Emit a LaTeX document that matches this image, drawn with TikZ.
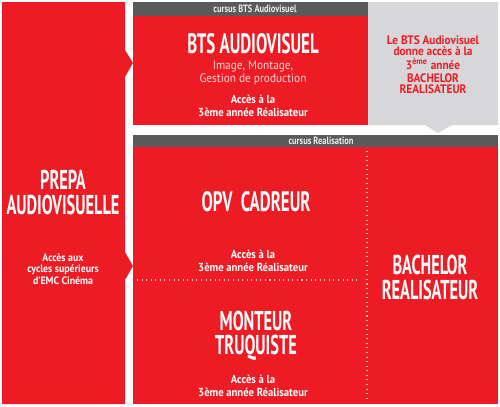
\documentclass[tikz,border=0pt]{standalone}
\usepackage{fontspec}
\setmainfont[FakeStretch=0.92]{PT Sans}
\newfontfamily\headfont[FakeStretch=0.6]{PT Sans}
\newfontfamily\tagfont[FakeStretch=0.8]{PT Sans}
\definecolor{emcred}{HTML}{ED1C24}
\definecolor{bargray}{HTML}{5A5A5A}
\definecolor{panelgray}{HTML}{D7D7D9}
\tikzset{
  bigtitle/.style={text=white,inner sep=0pt,font=\headfont\bfseries\fontsize{15.5}{15.5}\selectfont},
  subtext/.style={text=white!82!emcred,align=center,font=\fontsize{7}{7.4}\selectfont},
  accesstext/.style={text=white,align=center,font=\bfseries\fontsize{6.6}{7.4}\selectfont},
  bartext/.style={text=white!85!gray,font=\tagfont\bfseries\fontsize{6}{6}\selectfont},
  dotline/.style={white!70!emcred,dotted,line width=0.6pt}
}
\begin{document}
\begin{tikzpicture}[x=0.02cm,y=-0.02cm]
\useasboundingbox (0,0) rectangle (500,406);
% left column with the two arrows
\fill[emcred] (2,2) -- (125,2) -- (125,50) -- (133,63) -- (125,77) -- (125,252) -- (133,266) -- (125,280) -- (125,404) -- (2,404) -- cycle;
% BTS block
\fill[bargray] (133,2) rectangle (368,16);
\fill[emcred] (133,16) rectangle (368,125);
\fill[panelgray] (368,2) -- (498,2) -- (498,125) -- (452,125) -- (438,133) -- (425,125) -- (368,125) -- cycle;
% realisation block
\fill[bargray] (133,135) rectangle (498,147);
\fill[emcred] (133,147) rectangle (498,404);
\coordinate (vtop) at (367,151);
\coordinate (vbot) at (367,402);
\coordinate (hleft) at (137,280);
\coordinate (hright) at (360,280);
\draw[dotline] (vtop) -- (vbot);
\draw[dotline] (hleft) -- (hright);
% texts
\node[bartext] (btsbar) at (255,9) {cursus BTS Audiovisuel};
\node[bigtitle,font=\headfont\bfseries\fontsize{16}{16}\selectfont] (bts) at (253,44) {BTS AUDIOVISUEL};
\node[subtext] (btssub) at (253,73) {Image, Montage,\\Gestion de production};
\node[accesstext] (btsacc) at (253,106) {Accès à la\\3ème année Réalisateur};
\node[text=emcred,align=center,font=\bfseries\fontsize{7}{6.3}\selectfont] (btsnote) at (433,65)
  {Le BTS Audiovisuel\\donne accès à la\\3\textsuperscript{ème} année\\[1.2pt]BACHELOR\\REALISATEUR};
\node[bartext] (realbar) at (321,141) {cursus Realisation};
\node[bigtitle] (prepa) at (63,180) {PREPA};
\node[bigtitle] (audio) at (63,205) {AUDIOVISUELLE};
\node[accesstext,font=\bfseries\fontsize{6.1}{6.4}\selectfont] (prepaacc) at (63,269) {Accès aux\\cycles supérieurs\\d’EMC Cinéma};
\node[bigtitle,font=\headfont\bfseries\fontsize{16}{16}\selectfont] (opv) at (256,202) {OPV\ \ CADREUR};
\node[accesstext] (opvacc) at (253,261) {Accès à la\\3ème année Réalisateur};
\node[bigtitle] (monteur) at (256,320.5) {MONTEUR};
\node[bigtitle] (truquiste) at (256,347.5) {TRUQUISTE};
\node[accesstext] (monacc) at (253,386) {Accès à la\\3ème année Réalisateur};
\node[bigtitle] (bachelor) at (430,265) {BACHELOR};
\node[bigtitle] (realisateur) at (430,290) {REALISATEUR};
\end{tikzpicture}
\end{document}
